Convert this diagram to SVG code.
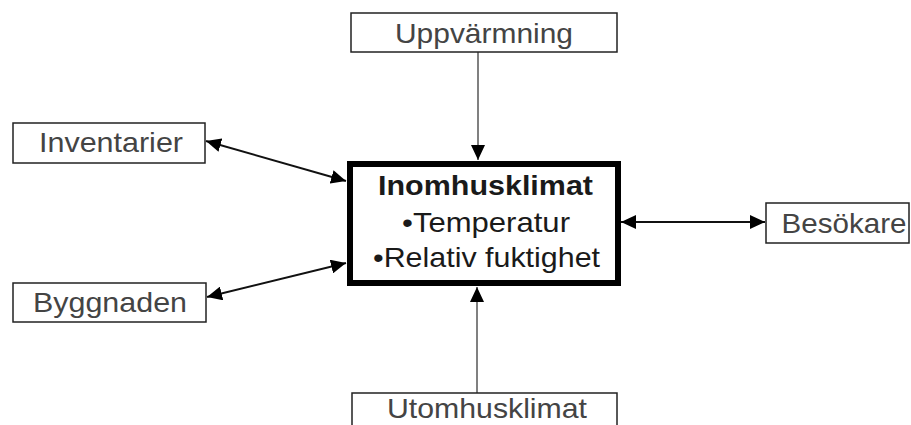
<svg xmlns="http://www.w3.org/2000/svg" width="911" height="425" viewBox="0 0 911 425">
<style>
.box{fill:#fff;stroke:#222;stroke-width:1.5}
.lbl{font-family:"Liberation Sans",Arial,sans-serif;font-size:28px;fill:#444;text-anchor:middle}
.main{font-family:"Liberation Sans",Arial,sans-serif;font-size:28px;fill:#1a1a1a;text-anchor:middle}
.blk{stroke:#111;stroke-width:2;fill:none}
.gry{stroke:#808080;stroke-width:2;fill:none}
</style>
<defs>
<marker id="ah" markerUnits="userSpaceOnUse" markerWidth="16" markerHeight="14" refX="15" refY="7" orient="auto-start-reverse">
<path d="M0,0 L15,7 L0,14 Z" fill="#000"/>
</marker>
</defs>
<g id="connectors">
<line class="gry" x1="478" y1="52" x2="478" y2="160" marker-end="url(#ah)"/>
<line class="gry" x1="477" y1="393" x2="477" y2="287" marker-end="url(#ah)"/>
<line class="blk" x1="621" y1="222" x2="765" y2="222" marker-start="url(#ah)" marker-end="url(#ah)"/>
<line class="blk" x1="206" y1="141" x2="346" y2="181" marker-start="url(#ah)" marker-end="url(#ah)"/>
<line class="blk" x1="207" y1="297" x2="346" y2="263" marker-start="url(#ah)" marker-end="url(#ah)"/>
</g>
<g id="uppvarmning">
<rect class="box" x="351" y="13" width="266" height="39"/>
<text class="lbl" x="484" y="43" textLength="178" lengthAdjust="spacingAndGlyphs">Uppvärmning</text>
</g>
<g id="inventarier">
<rect class="box" x="13" y="123" width="192" height="40"/>
<text class="lbl" x="111" y="152" textLength="144" lengthAdjust="spacingAndGlyphs">Inventarier</text>
</g>
<g id="byggnaden">
<rect class="box" x="13" y="283" width="193" height="39"/>
<text class="lbl" x="110" y="312" textLength="154" lengthAdjust="spacingAndGlyphs">Byggnaden</text>
</g>
<g id="besokare">
<rect class="box" x="766" y="203" width="143" height="40"/>
<text class="lbl" x="844" y="233" textLength="125" lengthAdjust="spacingAndGlyphs">Besökare</text>
</g>
<g id="utomhusklimat">
<rect class="box" x="352" y="393" width="265" height="45"/>
<text class="lbl" x="487" y="418" textLength="200" lengthAdjust="spacingAndGlyphs">Utomhusklimat</text>
</g>
<g id="inomhusklimat">
<rect x="350" y="164" width="268" height="119" fill="#fff" stroke="#000" stroke-width="6"/>
<text class="main" x="485.5" y="195" font-weight="bold" textLength="215" lengthAdjust="spacingAndGlyphs">Inomhusklimat</text>
<text class="main" x="486" y="232" textLength="168" lengthAdjust="spacingAndGlyphs">•Temperatur</text>
<text class="main" x="486.5" y="267" textLength="227" lengthAdjust="spacingAndGlyphs">•Relativ fuktighet</text>
</g>
</svg>
